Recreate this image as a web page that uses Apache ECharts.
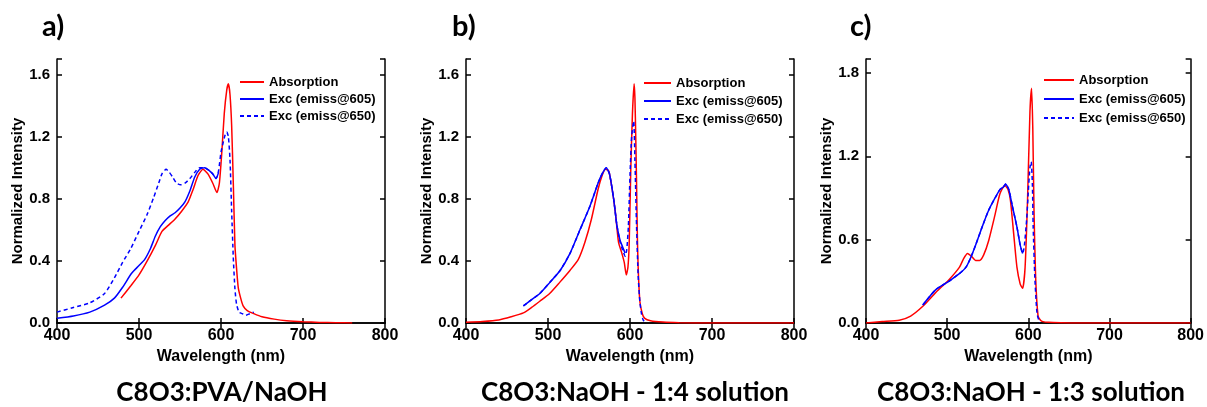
<!DOCTYPE html>
<html>
<head>
<meta charset="utf-8">
<script src="https://cdn.jsdelivr.net/npm/echarts@6/dist/echarts.min.js"></script>
<style>
html, body { margin: 0; padding: 0; background: #fff; }
#chart { width: 1207px; height: 407px; }
</style>
</head>
<body>
<div id="chart"></div>
<script>
// panel a) C8O3:PVA/NaOH
const absA_x = [478, 490, 500, 510, 520, 528, 536, 544, 552, 560, 566, 572, 578, 584, 590, 595, 598, 601, 604, 607, 609, 611, 613, 615, 617, 619, 621, 624, 627, 632, 640, 650, 665, 680, 700, 720, 740, 760]
const absA_y = [0.16, 0.24, 0.31, 0.40, 0.50, 0.59, 0.63, 0.67, 0.72, 0.78, 0.86, 0.95, 0.99, 0.96, 0.90, 0.84, 0.90, 1.10, 1.35, 1.50, 1.54, 1.47, 1.27, 0.90, 0.50, 0.35, 0.23, 0.16, 0.11, 0.08, 0.06, 0.04, 0.025, 0.015, 0.008, 0.004, 0.002, 0.0]
const excA605_x = [400, 420, 440, 458, 470, 480, 491, 500, 507, 514, 520, 526, 532, 538, 544, 550, 556, 562, 568, 574, 580, 586, 590, 594, 597]
const excA605_y = [0.03, 0.045, 0.07, 0.115, 0.16, 0.23, 0.32, 0.37, 0.41, 0.48, 0.56, 0.62, 0.66, 0.69, 0.71, 0.74, 0.78, 0.85, 0.94, 0.99, 1.0, 0.98, 0.96, 0.93, 0.97]
const excA650_x = [400, 420, 440, 458, 470, 480, 490, 500, 510, 518, 524, 528, 533, 537, 541, 546, 551, 556, 562, 568, 574, 580, 586, 590, 594, 597, 600, 603, 605, 607, 609, 611, 613, 615, 617, 619, 622, 626, 630, 635, 640]
const excA650_y = [0.07, 0.10, 0.13, 0.19, 0.29, 0.39, 0.48, 0.59, 0.70, 0.81, 0.90, 0.96, 0.99, 0.97, 0.94, 0.90, 0.89, 0.90, 0.93, 0.97, 1.0, 1.0, 0.98, 0.96, 0.93, 0.98, 1.10, 1.17, 1.21, 1.23, 1.20, 1.05, 0.72, 0.42, 0.22, 0.12, 0.07, 0.06, 0.05, 0.06, 0.07]

// panel b) C8O3:NaOH - 1:4 solution
const absB_x = [400, 420, 440, 455, 470, 480, 490, 502, 514, 527, 537, 545, 553, 561, 566, 570, 574, 578, 582, 586, 590, 593, 595.5, 597.5, 599, 601, 603, 605, 606, 607, 608, 609, 610, 612, 615, 618, 625, 640, 660, 700, 800]
const absB_y = [0.005, 0.01, 0.02, 0.04, 0.065, 0.10, 0.14, 0.19, 0.26, 0.34, 0.41, 0.52, 0.67, 0.86, 0.95, 0.99, 0.98, 0.87, 0.72, 0.52, 0.45, 0.39, 0.31, 0.36, 0.51, 1.0, 1.35, 1.54, 1.45, 1.2, 0.9, 0.55, 0.35, 0.14, 0.06, 0.03, 0.015, 0.006, 0.002, 0.0, 0.0]
const excB605_x = [470, 480, 490, 502, 515, 527, 539, 551, 561, 566, 571, 575, 580, 584, 588, 591, 594]
const excB605_y = [0.11, 0.15, 0.19, 0.26, 0.34, 0.45, 0.60, 0.75, 0.90, 0.96, 1.0, 0.96, 0.80, 0.63, 0.53, 0.49, 0.45]
const excB650_x = [470, 480, 490, 502, 515, 527, 539, 551, 561, 566, 571, 575, 580, 584, 588, 591, 594, 596, 598, 600, 602, 604.5, 606, 608, 610, 612, 614, 616, 619]
const excB650_y = [0.11, 0.15, 0.19, 0.26, 0.34, 0.45, 0.60, 0.75, 0.90, 0.96, 1.0, 0.96, 0.80, 0.63, 0.52, 0.47, 0.43, 0.47, 0.62, 0.95, 1.2, 1.30, 1.05, 0.62, 0.30, 0.14, 0.06, 0.02, 0.0]

// panel c) C8O3:NaOH - 1:3 solution
const absC_x = [400, 420, 441, 455, 470, 486, 502, 515, 520, 525, 530, 535, 540, 545, 551, 559, 565, 571, 575, 578, 582, 586, 590, 593, 596, 599, 602, 604, 605.5, 607, 609, 612, 615, 618, 625, 640, 660, 800]
const absC_y = [0.0, 0.01, 0.02, 0.05, 0.12, 0.22, 0.31, 0.40, 0.46, 0.50, 0.48, 0.45, 0.45, 0.49, 0.59, 0.78, 0.93, 0.99, 0.96, 0.88, 0.64, 0.40, 0.28, 0.25, 0.40, 0.88, 1.52, 1.69, 1.40, 0.81, 0.33, 0.05, 0.02, 0.01, 0.005, 0.002, 0.0, 0.0]
const excC605_x = [470, 486, 502, 515, 523, 529, 535, 543, 551, 559, 565, 569.5, 572, 576, 580, 586, 590, 593]
const excC605_y = [0.13, 0.24, 0.30, 0.355, 0.40, 0.47, 0.56, 0.69, 0.81, 0.90, 0.96, 0.98, 1.0, 0.96, 0.85, 0.69, 0.56, 0.50]
const excC650_x = [470, 486, 502, 515, 523, 529, 535, 543, 551, 559, 565, 569.5, 572, 576, 580, 586, 590, 593, 595, 598, 600, 602, 603.5, 605, 606, 608, 610, 611, 614]
const excC650_y = [0.13, 0.24, 0.30, 0.355, 0.40, 0.47, 0.56, 0.69, 0.81, 0.90, 0.96, 0.98, 1.0, 0.96, 0.85, 0.69, 0.56, 0.50, 0.55, 0.75, 0.95, 1.12, 1.16, 1.0, 0.69, 0.33, 0.12, 0.06, 0.0]

const seriesNames = ["Absorption", "Exc (emiss@605)", "Exc (emiss@650)"]
const xTicks = [400, 800, 100]
const letters = ["a)", "b)", "c)"]
const captions = ["C8O3:PVA/NaOH", "C8O3:NaOH - 1:4 solution", "C8O3:NaOH - 1:3 solution"]

const FONT = '"Liberation Sans", Arial, sans-serif'
const RED = "#ff0000"
const BLUE = "#0000ff"

const panels = [
    { left: 57, width: 328, ymax: 1.7, yint: 0.4, legLeft: 239, legTop: 75, iconW: 24, legGap: 3, letterX: 42, capX: 222,
      data: [[absA_x, absA_y], [excA605_x, excA605_y], [excA650_x, excA650_y]] },
    { left: 466, width: 328, ymax: 1.7, yint: 0.4, legLeft: 643, legTop: 76, iconW: 27, legGap: 4, letterX: 452, capX: 635,
      data: [[absB_x, absB_y], [excB605_x, excB605_y], [excB650_x, excB650_y]] },
    { left: 866, width: 327, ymax: 1.9, yint: 0.6, legLeft: 1043, legTop: 73, iconW: 30, legGap: 5, letterX: 850, capX: 1031,
      data: [[absC_x, absC_y], [excC605_x, excC605_y], [excC650_x, excC650_y]] }
]

function zip(xs, ys) {
    return xs.map((x, i) => [x, ys[i]])
}

const black = { color: "#000", width: 1.5 }
let grid = [], xAxis = [], yAxis = [], series = [], legend = [], graphic = []

panels.forEach((p, i) => {
    grid.push({ left: p.left, top: 59, width: p.width, height: 264 })

    // bottom + mirrored top axis
    xAxis.push({
        type: "value", gridIndex: i, min: xTicks[0], max: xTicks[1], interval: xTicks[2],
        axisLine: { lineStyle: black },
        axisTick: { inside: true, length: 5, lineStyle: black },
        axisLabel: { color: "#000", fontSize: 16, fontWeight: "bold", fontFamily: FONT, margin: 5 },
        splitLine: { show: false },
        name: "Wavelength (nm)", nameLocation: "middle", nameGap: 23,
        nameTextStyle: { color: "#000", fontSize: 16, fontWeight: "bold", fontFamily: FONT }
    })
    xAxis.push({
        type: "value", gridIndex: i, position: "top", min: xTicks[0], max: xTicks[1], interval: xTicks[2],
        axisLine: { lineStyle: black },
        axisTick: { inside: true, length: 5, lineStyle: black },
        axisLabel: { show: false },
        splitLine: { show: false }
    })

    const fmt = v => Math.abs(v / p.yint - Math.round(v / p.yint)) < 1e-6 ? v.toFixed(1) : ""
    yAxis.push({
        type: "value", gridIndex: i, min: 0, max: p.ymax, interval: p.yint,
        axisLine: { lineStyle: black },
        axisTick: { inside: true, length: 5, lineStyle: black },
        axisLabel: { color: "#000", fontSize: 15, fontWeight: "bold", fontFamily: FONT, margin: 7, formatter: fmt },
        splitLine: { show: false },
        name: "Normalized Intensity", nameLocation: "middle", nameGap: 32,
        nameTextStyle: { color: "#000", fontSize: 15, fontWeight: "bold", fontFamily: FONT }
    })
    yAxis.push({
        type: "value", gridIndex: i, position: "right", min: 0, max: p.ymax, interval: p.yint,
        axisLine: { lineStyle: black },
        axisTick: { inside: true, length: 5, lineStyle: black },
        axisLabel: { show: false },
        splitLine: { show: false }
    })

    p.data.forEach((d, k) => {
        series.push({
            name: seriesNames[k],
            type: "line",
            xAxisIndex: i * 2,
            yAxisIndex: i * 2,
            data: zip(d[0], d[1]),
            symbol: "none",
            smooth: 0.2,
            color: k === 0 ? RED : BLUE,
            lineStyle: { width: 1.5, color: k === 0 ? RED : BLUE, type: k === 2 ? [4, 3] : "solid" }
        })
    })

    legend.push({
        data: seriesNames, orient: "vertical", left: p.legLeft, top: p.legTop,
        itemWidth: p.iconW, itemHeight: 14, itemGap: p.legGap, padding: 0,
        selectedMode: false,
        itemStyle: { opacity: 0 },
        textStyle: { color: "#000", fontSize: 13, fontWeight: "bold", fontFamily: FONT, lineHeight: 14 }
    })

    graphic.push({
        type: "text", left: p.letterX, top: 12,
        style: { text: letters[i], font: 'bold 29px Lato', fill: "#000" }
    })
    graphic.push({
        type: "text", x: p.capX, y: 393,
        style: { text: captions[i], font: 'bold 26px Lato', fill: "#000", align: "center", verticalAlign: "middle" }
    })
})

let myChart = echarts.init(document.getElementById("chart"))
myChart.setOption({
    animation: false,
    backgroundColor: "#fff",
    grid, xAxis, yAxis, series, legend, graphic
})
</script>
</body>
</html>
